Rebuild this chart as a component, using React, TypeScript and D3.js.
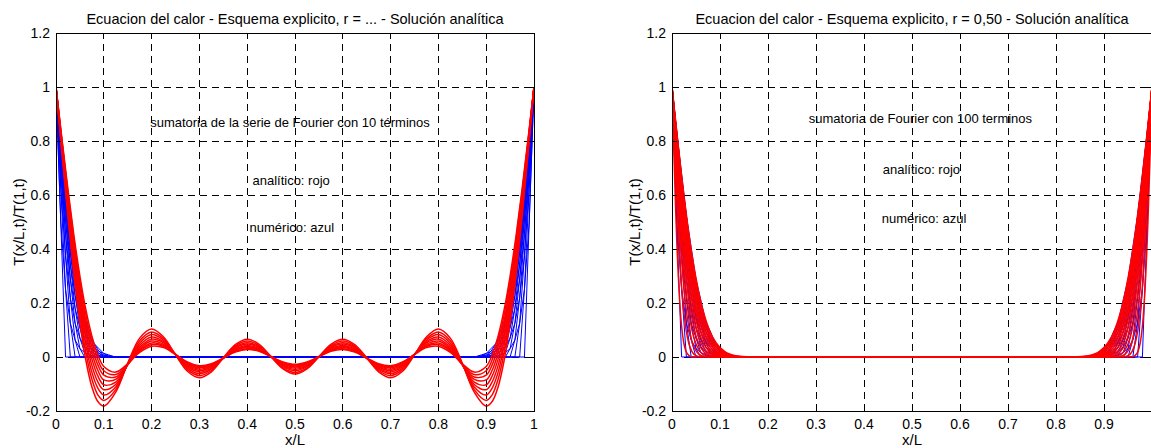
import * as d3 from 'd3';

type Pt = [number, number];

// axes
const xTickValues = [0, 0.1, 0.2, 0.3, 0.4, 0.5, 0.6, 0.7, 0.8, 0.9, 1];
const xTickLabels = ['0', '0.1', '0.2', '0.3', '0.4', '0.5', '0.6', '0.7', '0.8', '0.9', '1'];
const yTickValues = [-0.2, 0, 0.2, 0.4, 0.6, 0.8, 1, 1.2];
const yTickLabels = ['-0.2', '0', '0.2', '0.4', '0.6', '0.8', '1', '1.2'];
const xGrid = [0.1, 0.2, 0.3, 0.4, 0.5, 0.6, 0.7, 0.8, 0.9];
const yGrid = [0, 0.2, 0.4, 0.6, 0.8, 1];

const titles = [
  'Ecuacion del calor - Esquema explicito, r = ... - Solución analítica',
  'Ecuacion del calor - Esquema explicito, r = 0,50 - Solución analítica',
];
const xLabel = 'x/L';
const yLabel = 'T(x/L,t)/T(1,t)';
const leftNotes = ['sumatoria de la serie de Fourier con 10 términos', 'analítico: rojo', 'numérico: azul'];
const rightNotes = ['sumatoria de Fourier con 100 terminos', 'analítico: rojo', 'numérico: azul'];

// left panel, analytic (10-term series), half profile x = 0 .. 0.5 (symmetric)
const leftRedX = [0, 0.0125, 0.025, 0.0375, 0.05, 0.0625, 0.075, 0.0875, 0.1, 0.125, 0.15, 0.175, 0.2,
  0.225, 0.25, 0.275, 0.3, 0.325, 0.35, 0.375, 0.4, 0.425, 0.45, 0.475, 0.5];
const leftRed = [
  [1, 0.752, 0.517, 0.305, 0.126, -0.013, -0.110, -0.165, -0.182, -0.130, -0.023, 0.070, 0.104, 0.074, 0.008, -0.053, -0.077, -0.055, -0.003, 0.046, 0.066, 0.047, 0.001, -0.044, -0.063],
  [1, 0.760, 0.533, 0.327, 0.152, 0.015, -0.082, -0.140, -0.161, -0.121, -0.025, 0.060, 0.093, 0.068, 0.009, -0.047, -0.069, -0.050, -0.004, 0.041, 0.059, 0.042, 0.001, -0.040, -0.057],
  [1, 0.768, 0.547, 0.348, 0.177, 0.042, -0.056, -0.115, -0.141, -0.111, -0.027, 0.051, 0.083, 0.062, 0.010, -0.041, -0.062, -0.045, -0.004, 0.037, 0.053, 0.038, 0.001, -0.036, -0.051],
  [1, 0.776, 0.561, 0.367, 0.201, 0.067, -0.031, -0.092, -0.121, -0.102, -0.028, 0.043, 0.074, 0.057, 0.010, -0.036, -0.056, -0.041, -0.004, 0.033, 0.048, 0.035, 0.001, -0.032, -0.046],
  [1, 0.782, 0.575, 0.386, 0.223, 0.091, -0.007, -0.070, -0.103, -0.093, -0.029, 0.036, 0.066, 0.052, 0.010, -0.032, -0.050, -0.037, -0.004, 0.029, 0.043, 0.031, 0.001, -0.029, -0.041],
  [1, 0.789, 0.587, 0.403, 0.244, 0.114, 0.016, -0.049, -0.085, -0.083, -0.028, 0.030, 0.059, 0.047, 0.010, -0.028, -0.045, -0.034, -0.004, 0.026, 0.039, 0.028, 0.001, -0.026, -0.037],
  [1, 0.795, 0.599, 0.419, 0.263, 0.135, 0.038, -0.029, -0.067, -0.074, -0.028, 0.025, 0.052, 0.043, 0.010, -0.024, -0.040, -0.031, -0.004, 0.023, 0.035, 0.025, 0.001, -0.023, -0.033],
  [1, 0.801, 0.610, 0.435, 0.282, 0.156, 0.058, -0.010, -0.051, -0.065, -0.027, 0.021, 0.046, 0.039, 0.010, -0.021, -0.036, -0.028, -0.004, 0.020, 0.031, 0.023, 0.001, -0.021, -0.030],
  [1, 0.806, 0.621, 0.450, 0.300, 0.175, 0.078, 0.008, -0.035, -0.056, -0.025, 0.017, 0.040, 0.035, 0.009, -0.018, -0.032, -0.025, -0.004, 0.018, 0.028, 0.021, 0.001, -0.018, -0.027],
];

// numeric (explicit scheme), node values from x = 0 with node spacing fdStep, one list per time step
const fdStep = 0.01;
const fdProfiles = [
  [1, 0.5, 0],
  [1, 0.5, 0.25, 0],
  [1, 0.625, 0.25, 0.125, 0],
  [1, 0.625, 0.375, 0.125, 0.063, 0],
  [1, 0.688, 0.375, 0.219, 0.063, 0.031, 0],
  [1, 0.688, 0.453, 0.219, 0.125, 0.031, 0.016, 0],
  [1, 0.727, 0.453, 0.289, 0.125, 0.070, 0.016, 0.008, 0],
  [1, 0.727, 0.508, 0.289, 0.180, 0.070, 0.039, 0.008, 0.004, 0],
  [1, 0.754, 0.508, 0.344, 0.180, 0.109, 0.039, 0.021, 0.004, 0.002, 0],
  [1, 0.754, 0.549, 0.344, 0.227, 0.109, 0.065, 0.021, 0.012, 0.002, 0.001, 0],
  [1, 0.774, 0.549, 0.388, 0.227, 0.146, 0.065, 0.039, 0.012, 0.006, 0.001, 0],
  [1, 0.774, 0.581, 0.388, 0.267, 0.146, 0.092, 0.039, 0.022, 0.006, 0.003, 0],
  [1, 0.791, 0.581, 0.424, 0.267, 0.180, 0.092, 0.057, 0.022, 0.013, 0.003, 0.002, 0],
  [1, 0.791, 0.607, 0.424, 0.302, 0.180, 0.118, 0.057, 0.035, 0.013, 0.007, 0.002, 0.001, 0],
  [1, 0.804, 0.607, 0.454, 0.302, 0.210, 0.118, 0.077, 0.035, 0.021, 0.007, 0.004, 0.001, 0],
  [1, 0.804, 0.629, 0.454, 0.332, 0.210, 0.143, 0.077, 0.049, 0.021, 0.013, 0.004, 0.002, 0],
  [1, 0.815, 0.629, 0.481, 0.332, 0.238, 0.143, 0.096, 0.049, 0.031, 0.013, 0.008, 0.002, 0],
  [1, 0.815, 0.648, 0.481, 0.359, 0.238, 0.167, 0.096, 0.064, 0.031, 0.019, 0.008, 0.004, 0],
  [1, 0.824, 0.648, 0.503, 0.359, 0.263, 0.167, 0.115, 0.064, 0.041, 0.019, 0.012, 0.004, 0],
  [1, 0.824, 0.664, 0.503, 0.383, 0.263, 0.189, 0.115, 0.078, 0.041, 0.026, 0.012, 0.007, 0],
  [1, 0.832, 0.664, 0.523, 0.383, 0.286, 0.189, 0.134, 0.078, 0.052, 0.026, 0.017, 0.007, 0.003, 0],
  [1, 0.832, 0.678, 0.523, 0.405, 0.286, 0.210, 0.134, 0.093, 0.052, 0.034, 0.017, 0.010, 0.004, 0],
];
const leftStepCount = 17;

// right panel, analytic (100 terms): x where each curve passes these levels
const rightRedLevels = [1, 0.9, 0.8, 0.7, 0.6, 0.5, 0.4, 0.3, 0.2, 0.1, 0.05, 0.02, 0.005, 0.001];
const rightRedX = [
  [0, 0.0016, 0.0032, 0.0049, 0.0066, 0.0085, 0.0106, 0.0131, 0.0162, 0.0208, 0.0248, 0.0294, 0.0355, 0.0416],
  [0, 0.0022, 0.0045, 0.0069, 0.0094, 0.0121, 0.0151, 0.0185, 0.0229, 0.0294, 0.0351, 0.0416, 0.0502, 0.0589],
  [0, 0.0028, 0.0055, 0.0084, 0.0115, 0.0148, 0.0184, 0.0227, 0.0281, 0.0360, 0.0429, 0.0510, 0.0615, 0.0721],
  [0, 0.0032, 0.0064, 0.0098, 0.0133, 0.0171, 0.0213, 0.0262, 0.0324, 0.0416, 0.0496, 0.0589, 0.0710, 0.0833],
  [0, 0.0036, 0.0072, 0.0109, 0.0148, 0.0191, 0.0238, 0.0293, 0.0362, 0.0465, 0.0554, 0.0658, 0.0794, 0.0931],
  [0, 0.0039, 0.0078, 0.0119, 0.0162, 0.0209, 0.0261, 0.0321, 0.0397, 0.0510, 0.0607, 0.0721, 0.0870, 0.1020],
  [0, 0.0042, 0.0085, 0.0129, 0.0176, 0.0226, 0.0282, 0.0347, 0.0429, 0.0551, 0.0656, 0.0779, 0.0939, 0.1101],
  [0, 0.0045, 0.0091, 0.0138, 0.0188, 0.0241, 0.0301, 0.0371, 0.0459, 0.0589, 0.0701, 0.0832, 0.1004, 0.1177],
  [0, 0.0048, 0.0096, 0.0146, 0.0199, 0.0256, 0.0319, 0.0393, 0.0486, 0.0624, 0.0744, 0.0883, 0.1065, 0.1249],
  [0, 0.0050, 0.0101, 0.0154, 0.0210, 0.0270, 0.0337, 0.0415, 0.0513, 0.0658, 0.0784, 0.0931, 0.1123, 0.1316],
  [0, 0.0053, 0.0106, 0.0162, 0.0220, 0.0283, 0.0353, 0.0435, 0.0538, 0.0690, 0.0822, 0.0976, 0.1178, 0.1380],
  [0, 0.0055, 0.0111, 0.0169, 0.0230, 0.0296, 0.0369, 0.0454, 0.0562, 0.0721, 0.0859, 0.1019, 0.1230, 0.1442],
  [0, 0.0057, 0.0116, 0.0176, 0.0239, 0.0308, 0.0384, 0.0473, 0.0585, 0.0750, 0.0894, 0.1061, 0.1280, 0.1501],
  [0, 0.0060, 0.0120, 0.0182, 0.0248, 0.0319, 0.0398, 0.0491, 0.0607, 0.0778, 0.0928, 0.1101, 0.1328, 0.1557],
];

const FONT = '"Liberation Sans", Arial, Helvetica, sans-serif';
const TOP = 33;
const BOTTOM = 411;

// both panels are symmetric about x = 0.5
const mirror = (half: Pt[], dropLast: boolean): Pt[] => {
  const back = (dropLast ? half.slice(0, -1) : half.slice()).reverse().map(([x, v]) => [1 - x, v] as Pt);
  return [...half, ...back];
};

const leftRedCurves = leftRed.map(vals => mirror(vals.map((v, i) => [leftRedX[i], v] as Pt), true));
const rightRedCurves = rightRedX.map(xs =>
  mirror([...xs.map((x, i) => [x, rightRedLevels[i]] as Pt), [0.5, 0] as Pt], true));
const fdCurves = fdProfiles.map(vals => mirror(vals.map((v, i) => [i * fdStep, v] as Pt), false));

type Note = { text: string; x: number; y: number };

function Panel({ id, x0, x1, title, tickLabelCount, red, redCurve, blue, notes }: {
  id: string; x0: number; x1: number; title: string; tickLabelCount: number;
  red: Pt[][]; redCurve: d3.CurveFactory; blue: Pt[][]; notes: Note[];
}) {
  const x = d3.scaleLinear().domain([0, 1]).range([x0, x1]);
  const y = d3.scaleLinear().domain([-0.2, 1.2]).range([BOTTOM, TOP]);
  const blueLine = d3.line<Pt>().x(d => x(d[0])).y(d => y(d[1]));
  const redLine = d3.line<Pt>().x(d => x(d[0])).y(d => y(d[1])).curve(redCurve);
  const tick = 5;

  return (
    <g>
      <defs>
        <clipPath id={id}>
          <rect x={x0} y={TOP} width={x1 - x0} height={BOTTOM - TOP} />
        </clipPath>
      </defs>

      <g stroke="#000" strokeWidth={1} strokeDasharray="7,5" shapeRendering="crispEdges">
        {xGrid.map(v => <line key={'gx' + v} x1={x(v)} x2={x(v)} y1={BOTTOM} y2={TOP} />)}
        {yGrid.map(v => <line key={'gy' + v} x1={x0} x2={x1} y1={y(v)} y2={y(v)} />)}
      </g>

      <g clipPath={`url(#${id})`} fill="none">
        {blue.map((pts, i) => <path key={'b' + i} d={blueLine(pts) ?? ''} stroke="#0000ff" strokeWidth={1} />)}
        {red.map((pts, i) => <path key={'r' + i} d={redLine(pts) ?? ''} stroke="#ff0000" strokeWidth={1.5} />)}
      </g>

      <g stroke="#000" strokeWidth={1} shapeRendering="crispEdges" fill="none">
        <rect x={x0} y={TOP} width={x1 - x0} height={BOTTOM - TOP} />
        {xTickValues.map(v => (
          <g key={'tx' + v}>
            <line x1={x(v)} x2={x(v)} y1={BOTTOM} y2={BOTTOM - tick} />
            <line x1={x(v)} x2={x(v)} y1={TOP} y2={TOP + tick} />
          </g>
        ))}
        {yTickValues.map(v => (
          <g key={'ty' + v}>
            <line x1={x0} x2={x0 + tick} y1={y(v)} y2={y(v)} />
            <line x1={x1} x2={x1 - tick} y1={y(v)} y2={y(v)} />
          </g>
        ))}
      </g>

      <g fontFamily={FONT} fontSize={14} fill="#000">
        {xTickValues.slice(0, tickLabelCount).map((v, i) => (
          <text key={'lx' + v} x={x(v)} y={429} textAnchor="middle">{xTickLabels[i]}</text>
        ))}
        {yTickValues.map((v, i) => (
          <text key={'ly' + v} x={x0 - 6} y={y(v)} textAnchor="end" dominantBaseline="central">{yTickLabels[i]}</text>
        ))}
        <text x={(x0 + x1) / 2} y={24} textAnchor="middle" fontSize={14.5}>{title}</text>
        <text x={x(0.5)} y={445} textAnchor="middle" fontSize={15}>{xLabel}</text>
        <text transform={`translate(${x0 - 38},${(TOP + BOTTOM) / 2}) rotate(-90)`} textAnchor="middle"
          dominantBaseline="central" fontSize={15}>{yLabel}</text>
      </g>

      <g fontFamily={FONT} fontSize={13} fill="#000">
        {notes.map(n => (
          <text key={n.text} x={x(n.x)} y={y(n.y)} dominantBaseline="central">{n.text}</text>
        ))}
      </g>
    </g>
  );
}

export default function App() {
  return (
    <div style={{ position: 'absolute', left: 0, top: 0 }}>
      <svg width={1151} height={448} style={{ display: 'block', background: '#fff' }}>
        <Panel
          id="clipLeft"
          x0={56}
          x1={534}
          title={titles[0]}
          tickLabelCount={11}
          red={leftRedCurves}
          redCurve={d3.curveCatmullRom}
          blue={fdCurves.slice(0, leftStepCount)}
          notes={[
            { text: leftNotes[0], x: 0.197, y: 0.867 },
            { text: leftNotes[1], x: 0.411, y: 0.652 },
            { text: leftNotes[2], x: 0.405, y: 0.479 },
          ]}
        />
        <Panel
          id="clipRight"
          x0={672}
          x1={1152}
          title={titles[1]}
          tickLabelCount={10}
          red={rightRedCurves}
          redCurve={d3.curveMonotoneX}
          blue={fdCurves}
          notes={[
            { text: rightNotes[0], x: 0.285, y: 0.884 },
            { text: rightNotes[1], x: 0.439, y: 0.693 },
            { text: rightNotes[2], x: 0.437, y: 0.514 },
          ]}
        />
      </svg>
    </div>
  );
}
